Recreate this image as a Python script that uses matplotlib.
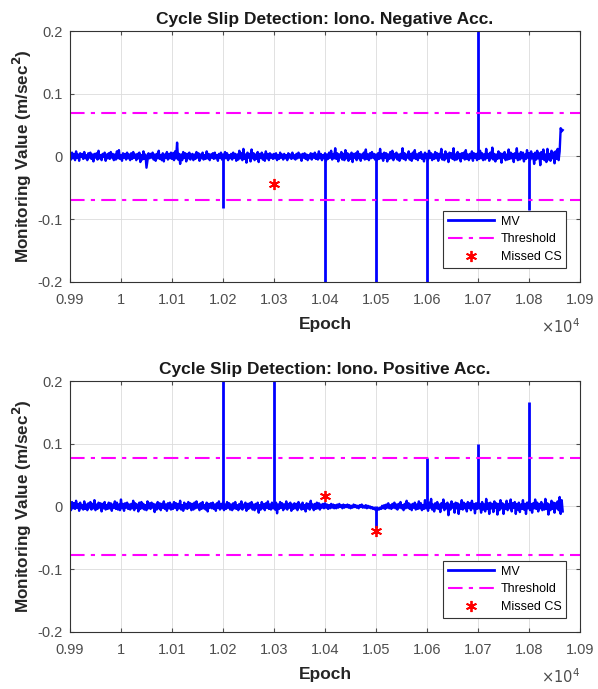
import matplotlib.pyplot as plt
import numpy as np

plt.rcParams['font.family'] = ['Liberation Sans', 'DejaVu Sans']

# MV noise read every 2nd epoch from 9900 (units of 1e-3 m/s^2)
epoch_start = 9900
epoch_step = 2

noise_neg = [
    2, -5, 6, -3, 4, -6, 8, -2, 3, -7, 5, -1, 4, -4, 7, -3, 2, -6, 5, -2,
    6, -4, 3, -8, 4, -2, 5, -5, 9, -3, 2, -6, 4, -1, 6, -7, 3, -3, 5, -4,
    7, -2, 4, -6, 3, -5, 8, -3, 10, -4, 2, -7, 5, -2, 4, -5, 6, -3, 3, -6,
    5, -4, 7, -2, 3, -6, 4, -3, 6, -9, 2, -5, 8, -4, 3, -18, -6, 5, -3, 4,
    -2, 6, -5, 3, -7, 4, -3, 9, -4, 2, -6, 5, -8, 3, -2, 7, -5, 4, -3, 6,
    -4, 5, -6, 8, -3, 22, -5, 4, -12, 3, -6, 7, -2, 5, -8, 4, -3, 6, -5, 2,
    4, -6, 3, -4, 7, -2, 5, -7, 3, -3, 6, -5, 2, -4, 8, -3, 4, -6, 3, -2,
    5, -4, 6, -3, 2, -7, 4, -2, 6, -5, 3, -4, 7, -3, 5, -6, 2, -3, 4, -5,
    6, -2, 4, -7, 3, -5, 9, -3, 5, -6, 12, -4, 3, -10, 6, -2, 4, -8, 11, -3,
    5, -6, 3, -4, 7, -9, 4, -2, 6, -5, 3, -7, 8, -3, 4, -6, 5, -2, 3, -4,
    4, -3, 5, -6, 2, -4, 6, -2, 3, -5, 4, -3, 2, -6, 5, -2, 3, -4, 6, -3,
    2, -5, 4, -3, 6, -2, 3, -7, 4, -2, 5, -4, 3, -6, 2, -3, 5, -5, 4, -2,
    6, -4, 3, -5, 8, -3, 4, -6, 2, -3, 5, -7, 3, -4, 6, -2, 9, -5, 4, -3,
    13, -4, 5, -8, 3, -2, 7, -5, 4, -6, 10, -3, 5, -7, 3, -4, 6, -9, 4, -2,
    5, -6, 8, -3, 4, -7, 3, -2, 6, -5, 11, -4, 3, -6, 5, -3, 7, -2, 4, -5,
    3, -6, 5, -4, 12, -3, 4, -7, 6, -2, 5, -8, 3, -4, 7, -3, 9, -6, 4, -2,
    6, -5, 3, -7, 4, -3, 13, -4, 5, -6, 3, -2, 8, -5, 4, -7, 6, -3, 10, -4,
    3, -6, 5, -2, 7, -4, 3, -8, 6, -3, 4, -5, 9, -2, 5, -6, 3, -4, 7, -3,
    5, -7, 4, -2, 12, -5, 3, -6, 8, -3, 4, -9, 6, -2, 5, -4, 13, -6, 3, -5,
    7, -3, 4, -8, 5, -2, 6, -5, 10, -4, 3, -6, 4, -3, 8, -7, 5, -2, 4, -6,
    6, -4, 9, -3, 5, -6, 3, -5, 12, -2, 4, -7, 6, -3, 14, -5, 4, -8, 3, -4,
    8, -3, 5, -10, 4, -2, 7, -6, 3, -5, 11, -4, 6, -3, 4, -9, 5, -2, 13, -6,
    4, -5, 7, -3, 6, -8, 3, -4, 10, -2, 5, -6, 8, -3, 4, -12, 6, -5, 9, -3,
    5, -14, 7, -4, 11, -6, 3, -9, 12, -5, 4, -7, 9, -3, 6, -11, 8, -4, 12, -6,
    8, 45, 40, 42]

noise_pos = [
    3, -6, 7, -3, 5, -4, 9, -2, 4, -7, 6, -3, 2, -5, 8, -4, 3, -6, 5, -2,
    7, -5, 4, -3, 10, -6, 3, -4, 6, -2, 5, -8, 4, -3, 7, -5, 2, -4, 6, -3,
    5, -7, 3, -2, 8, -4, 6, -5, 3, -6, 11, -3, 4, -7, 5, -2, 6, -4, 3, -5,
    4, -3, 9, -6, 5, -2, 3, -8, 6, -4, 7, -3, 4, -5, 2, -6, 8, -3, 5, -4,
    6, -2, 4, -9, 3, -5, 7, -3, 5, -6, 4, -2, 8, -4, 3, -7, 5, -3, 6, -5,
    3, -4, 7, -2, 5, -6, 4, -3, 9, -5, 2, -7, 6, -3, 4, -4, 7, -2, 5, -6,
    4, -5, 6, -3, 8, -2, 3, -6, 5, -4, 7, -3, 2, -5, 6, -8, 4, -2, 5, -3,
    6, -4, 3, -7, 5, -2, 8, -5, 4, -3, 6, -6, 3, -4, 7, -2, 5, -5, 3, -6,
    5, -3, 7, -4, 2, -6, 4, -3, 8, -5, 3, -2, 6, -7, 4, -4, 5, -2, 7, -5,
    3, -6, 4, -3, 6, -10, 2, -5, 7, -3, 4, -6, 5, -2, 8, -4, 3, -5, 6, -3,
    4, -5, 6, -11, 3, -4, 7, -2, 5, -6, 3, -3, 8, -5, 4, -2, 6, -7, 3, -4,
    5, -3, 4, -6, 7, -2, 3, -5, 6, -4, 2, -8, 5, -3, 4, -5, 9, -2, 3, -6,
    4, -4, 6, -3, 5, -5, 3, -2, 4, -3, 5, -2, 3, -4, 2, -3, 4, -2, 3, -3,
    2, -3, 3, -2, 4, -1, 2, -3, 3, -2, 2, -1, 3, -2, 2, -3, 1, -2, 3, -1,
    2, -2, 1, -3, 2, -1, 3, -2, 1, -2, 2, -3, 1, -2, 0, -3, -1, -4, -2, -5,
    -4, -6, -3, -5, -2, -4, 1, -3, 2, -4, 3, -2, 5, -3, 2, -4, 4, -2, 6, -3,
    3, -5, 4, -2, 7, -3, 2, -6, 4, -3, 9, -2, 5, -4, 3, -6, 4, -2, 6, -5,
    3, -4, 8, -3, 5, -6, 2, -4, 10, -3, 4, -7, 6, -2, 12, -5, 3, -8, 5, -3,
    7, -4, 3, -9, 5, -2, 11, -6, 4, -3, 6, -14, 3, -5, 8, -2, 4, -10, 6, -3,
    5, -12, 3, -4, 10, -5, 6, -3, 4, -8, 7, -2, 5, -6, 9, -3, 4, -11, 5, -4,
    6, -3, 4, -10, 7, -5, 3, -8, 12, -4, 5, -12, 6, -3, 4, -9, 8, -2, 5, -13,
    4, -6, 10, -3, 5, -12, 3, -4, 9, -6, 4, -3, 11, -8, 5, -2, 7, -12, 4, -5,
    6, -9, 3, -4, 10, -5, 4, -12, 6, -3, 8, -6, 4, -10, 5, -3, 11, -4, 6, -8,
    4, -3, 7, -6, 3, -5, 12, -4, 5, -13, 3, -6, 9, -4, 6, -10, 5, -3, 8, -6,
    15, -12, 10, -8]

# cycle slip spikes
spike_ep_neg = [10200, 10400, 10500, 10600, 10700, 10800]
spike_val_neg = [-0.082, -0.3, -0.3, -0.3, 0.3, -0.085]
spike_ep_pos = [10200, 10300, 10500, 10600, 10700, 10800]
spike_val_pos = [0.3, 0.3, -0.035, 0.077, 0.1, 0.167]

# missed cycle slips
missed_ep_neg = [10300]
missed_val_neg = [-0.044]
missed_ep_pos = [10400, 10500]
missed_val_pos = [0.017, -0.04]

thresh_neg = 0.07
thresh_pos = 0.078

titles = ['Cycle Slip Detection: Iono. Negative Acc.',
          'Cycle Slip Detection: Iono. Positive Acc.']
xticks = [9900, 10000, 10100, 10200, 10300, 10400, 10500, 10600, 10700, 10800, 10900]
xticklabels = ['0.99', '1', '1.01', '1.02', '1.03', '1.04', '1.05', '1.06', '1.07', '1.08', '1.09']
yticks = [-0.2, -0.1, 0, 0.1, 0.2]
yticklabels = ['-0.2', '-0.1', '0', '0.1', '0.2']

fig = plt.figure(figsize=(5.98, 6.89), dpi=100)
ax1 = fig.add_axes([0.117, 0.591, 0.853, 0.364])
ax2 = fig.add_axes([0.117, 0.083, 0.853, 0.364])

panels = [
    (ax1, noise_neg, spike_ep_neg, spike_val_neg, missed_ep_neg, missed_val_neg, thresh_neg, titles[0]),
    (ax2, noise_pos, spike_ep_pos, spike_val_pos, missed_ep_pos, missed_val_pos, thresh_pos, titles[1]),
]

tick_col = '#4d4d4d'
for ax, noise, sp_ep, sp_val, ms_ep, ms_val, th, title in panels:
    ep = epoch_start + epoch_step * np.arange(len(noise))
    mv = np.array(noise) * 1e-3
    line, = ax.plot(ep, mv, color='#0000ff', lw=1.7, label='MV')
    ax.vlines(sp_ep, 0, sp_val, color='#0000ff', lw=2.0)
    thr, = ax.plot([9900, 10900], [th, th], color='#ff00ff', lw=1.5,
                   dashes=(7, 3, 2, 3), label='Threshold')
    ax.plot([9900, 10900], [-th, -th], color='#ff00ff', lw=1.5, dashes=(7, 3, 2, 3))
    ms, = ax.plot(ms_ep, ms_val, ls='none', marker=(6, 2, 0), color='#ff0000',
                  markersize=8, markeredgewidth=1.3, label='Missed CS')
    ax.set_xlim(9900, 10900)
    ax.set_ylim(-0.2, 0.2)
    ax.set_xticks(xticks)
    ax.set_xticklabels(xticklabels)
    ax.set_yticks(yticks)
    ax.set_yticklabels(yticklabels)
    ax.tick_params(direction='in', length=3, labelsize=10.5, colors=tick_col,
                   top=True, right=True, labeltop=False, labelright=False)
    ax.tick_params(axis='x', pad=8)
    ax.tick_params(axis='y', pad=5)
    ax.grid(True, color='#dcdcdc', lw=0.6)
    ax.set_axisbelow(True)
    for s in ax.spines.values():
        s.set_color('#333333')
        s.set_linewidth(0.8)
    ax.set_title(title, fontsize=12.5, fontweight='bold', pad=5, color='#1a1a1a')
    ax.set_xlabel('Epoch', fontsize=12.5, fontweight='bold', color='#262626', labelpad=7)
    ax.set_ylabel('Monitoring Value (m/sec$^\\mathbf{2}$)', fontsize=12.3, fontweight='bold',
                  color='#262626', labelpad=3)
    ax.text(1.0, -0.14, '$\\times10^{4}$', transform=ax.transAxes, ha='right', va='top',
            fontsize=10.5, color=tick_col)
    leg = ax.legend(handles=[line, thr, ms], loc='lower right', fontsize=9,
                    fancybox=False, edgecolor='#333333', framealpha=1,
                    handlelength=3.7, borderaxespad=1.1, labelspacing=0.45,
                    handletextpad=0.5)
    leg.get_frame().set_linewidth(0.8)
    leg.legend_handles[0].set_linewidth(2.0)

fig.savefig('out.png', dpi=100)
